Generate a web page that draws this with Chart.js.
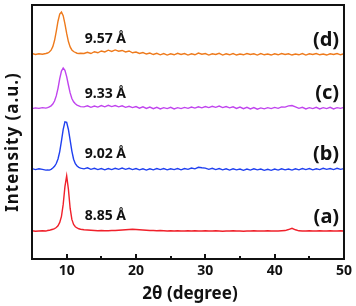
<!DOCTYPE html>
<html>
<head>
<meta charset="utf-8">
<script src="https://cdn.jsdelivr.net/npm/chart.js@4.4.1/dist/chart.umd.min.js"></script>
<style>
  html, body { margin: 0; padding: 0; background: #fff; }
  #box { width: 356px; height: 306px; }
</style>
</head>
<body>
<div id="box"><canvas id="myChart"></canvas></div>
<script>
// 2theta grid (denser around the basal peak)
const twoTheta = [
  5, 5.5, 6, 6.5, 7,
  7.25, 7.5, 7.75, 8, 8.25, 8.5, 8.75, 9, 9.25, 9.5, 9.75, 10, 10.25, 10.5, 10.75, 11, 11.25, 11.5, 11.75, 12,
  12.5, 13, 13.5, 14, 14.5, 15, 15.5, 16, 16.5, 17, 17.5, 18, 18.5, 19, 19.5, 20, 20.5, 21, 21.5, 22, 22.5, 23, 23.5, 24, 24.5, 25,
  25.5, 26, 26.5, 27, 27.5, 28, 28.5, 29, 29.5, 30, 30.5, 31, 31.5, 32, 32.5, 33, 33.5, 34, 34.5, 35, 35.5, 36, 36.5, 37, 37.5,
  38, 38.5, 39, 39.5, 40, 40.5, 41, 41.5, 42, 42.5, 43, 43.5, 44, 44.5, 45, 45.5, 46, 46.5, 47, 47.5, 48, 48.5, 49, 49.5, 50
];

// intensities, already stacked with an offset (arbitrary units)
const traceA = [
  11.1, 10.9, 11.0, 11.1, 11.0,
  11.2, 11.3, 11.5, 11.7, 12.0, 12.4, 13.1, 14.4, 16.8, 21.5, 28.5, 32.7, 27.5, 20.0, 15.6, 13.6, 12.7, 12.2, 11.9, 11.7,
  11.5, 11.4, 11.3, 11.2, 11.1, 11.2, 11.1, 11.1, 11.2, 11.2, 11.3, 11.4, 11.5, 11.6, 11.7, 11.6, 11.5, 11.4, 11.3, 11.2, 11.2, 11.1, 11.2, 11.1, 11.0, 11.1,
  11.0, 11.1, 11.0, 11.0, 11.1, 11.0, 11.1, 11.0, 11.0, 11.1, 11.0, 11.0, 11.1, 11.0, 10.9, 11.0, 11.0, 11.1, 11.0, 11.0, 10.9, 11.0, 11.0, 11.1, 11.0,
  11.0, 11.0, 11.1, 11.0, 11.0, 11.0, 11.1, 11.2, 11.6, 12.1, 11.5, 11.1, 11.0, 11.0, 11.1, 11.0, 11.0, 11.1, 11.0, 11.0, 11.1, 11.0, 11.0, 11.1, 11.0
];
const traceB = [
  35.6, 35.2, 35.5, 35.3, 35.0,
  35.1, 35.0, 35.3, 35.8, 36.5, 37.6, 39.4, 42.3, 46.5, 51.0, 54.0, 53.8, 51.0, 46.8, 42.5, 39.3, 37.5, 36.6, 36.1, 35.8,
  35.5, 35.9, 35.3, 35.7, 35.2, 35.6, 35.1, 35.6, 35.2, 35.7, 35.3, 35.8, 35.3, 35.7, 35.2, 35.6, 35.1, 35.5, 35.0, 35.5, 35.1, 35.6, 35.2, 35.6, 35.1, 35.5,
  35.2, 35.6, 35.1, 35.6, 35.3, 35.8, 35.5, 36.1, 35.9, 35.8, 35.3, 35.7, 35.2, 35.6, 35.1, 35.5, 35.0, 35.5, 35.1, 35.4, 34.9, 35.4, 35.0, 35.5, 35.1,
  35.4, 34.9, 35.3, 34.9, 35.4, 35.0, 35.5, 35.1, 35.4, 35.0, 35.5, 35.1, 35.6, 35.2, 35.6, 35.1, 35.5, 35.2, 35.7, 35.3, 35.6, 35.2, 35.7, 35.3, 35.6
];
const traceC = [
  59.2, 59.5, 59.3, 59.6, 59.4,
  59.6, 59.9, 60.3, 61.0, 62.2, 64.2, 67.2, 71.0, 74.0, 75.2, 74.3, 71.8, 68.5, 65.4, 63.2, 61.9, 61.1, 60.6, 60.3, 60.0,
  59.9, 60.3, 59.7, 60.2, 59.8, 60.4, 59.9, 60.5, 60.0, 60.4, 59.9, 60.3, 59.7, 60.1, 59.6, 60.0, 59.4, 59.9, 59.3, 59.8, 59.2, 59.7, 59.1, 59.6, 59.2, 59.7,
  59.1, 59.6, 59.2, 59.7, 59.3, 59.8, 59.4, 59.9, 59.5, 60.0, 59.6, 60.1, 59.7, 60.2, 59.6, 60.0, 59.5, 59.9, 59.3, 59.8, 59.2, 59.7, 59.1, 59.6, 59.0,
  59.5, 59.1, 59.6, 59.2, 59.7, 59.3, 59.9, 59.8, 60.3, 60.4, 59.9, 59.3, 59.7, 59.1, 59.6, 59.2, 59.7, 59.1, 59.6, 59.2, 59.7, 59.1, 59.6, 59.3, 59.7
];
const traceD = [
  80.9, 80.5, 80.8, 80.6, 80.9,
  81.1, 81.5, 82.2, 83.6, 86.0, 89.6, 93.6, 96.4, 97.2, 95.8, 92.6, 88.8, 85.6, 83.5, 82.3, 81.7, 81.3, 81.0, 80.9, 81.0,
  80.9, 81.4, 80.9, 81.6, 81.2, 81.9, 81.5, 82.2, 81.7, 82.3, 81.8, 82.1, 81.5, 81.9, 81.2, 81.5, 80.9, 81.3, 80.7, 81.1, 80.5, 81.0, 80.4, 80.9, 80.3, 80.8,
  80.4, 81.0, 80.5, 80.9, 80.3, 80.8, 80.4, 81.1, 80.6, 80.9, 80.3, 80.8, 80.5, 81.0, 80.3, 80.8, 80.4, 80.9, 80.3, 80.7, 80.4, 80.9, 80.5, 80.8, 80.3,
  80.9, 80.4, 80.7, 80.3, 80.8, 80.4, 80.9, 80.5, 80.8, 80.3, 80.7, 80.4, 80.9, 80.3, 80.8, 80.5, 80.9, 80.4, 80.7, 80.3, 80.8, 80.5, 80.9, 80.4, 80.8
];

const seriesLetters = ["(a)", "(b)", "(c)", "(d)"];
const dSpacings = ["8.85 Å", "9.02 Å", "9.33 Å", "9.57 Å"];
const seriesColors = ["#f0202a", "#2040f0", "#c044ee", "#ee7a1c"];
const xTicks = [10, 20, 30, 40, 50];
const xMinorTicks = [15, 25, 35, 45];

const traces = [traceA, traceB, traceC, traceD];
const INK = "#111";
const FONT = "'Noto Sans', 'DejaVu Sans', sans-serif";

//frame, inward ticks, peak labels and axis titles
const decorations = {
  id: "decorations",
  afterDraw(chart) {
    const { ctx, chartArea: a, scales: { x, y } } = chart;
    ctx.save();

    //plot frame
    ctx.strokeStyle = INK;
    ctx.lineWidth = 2;
    ctx.strokeRect(a.left, a.top, a.right - a.left, a.bottom - a.top);

    //inward ticks on the bottom axis
    ctx.beginPath();
    xTicks.forEach((v) => {
      const px = Math.round(x.getPixelForValue(v));
      ctx.moveTo(px, a.bottom);
      ctx.lineTo(px, a.bottom - 5);
    });
    xMinorTicks.forEach((v) => {
      const px = Math.round(x.getPixelForValue(v));
      ctx.moveTo(px, a.bottom);
      ctx.lineTo(px, a.bottom - 3);
    });
    ctx.stroke();

    //d-spacing labels and series letters
    ctx.fillStyle = INK;
    ctx.textBaseline = "middle";
    traces.forEach((t, i) => {
      ctx.font = "bold 14px " + FONT;
      ctx.textAlign = "left";
      ctx.fillText(dSpacings[i], x.getPixelForValue(12.6), y.getPixelForValue(t[0] + 5.8));
      ctx.font = "bold 20px " + FONT;
      ctx.textAlign = "right";
      ctx.fillText(seriesLetters[i], x.getPixelForValue(49.3), y.getPixelForValue(t[t.length - 1] + 5.5));
    });

    //axis titles
    ctx.font = "bold 17px " + FONT;
    ctx.textAlign = "center";
    ctx.fillText("2θ (degree)", (a.left + a.right) / 2 + 2, 294);

    ctx.translate(13, (a.top + a.bottom) / 2 + 10);
    ctx.rotate(-Math.PI / 2);
    ctx.letterSpacing = "1px";
    ctx.fillText("Intensity (a.u.)", 0, 0);
    ctx.restore();
  },
};

new Chart(document.getElementById("myChart").getContext("2d"), {
  type: "line",
  data: {
    datasets: traces.map((t, i) => ({
      data: t.map((v, j) => ({ x: twoTheta[j], y: v })),
      borderColor: seriesColors[i],
      borderWidth: 1.4,
      pointRadius: 0,
      tension: 0,
    })),
  },
  options: {
    responsive: true,
    maintainAspectRatio: false,
    animation: false,
    layout: { padding: { left: 32, right: 11, top: 5, bottom: 0 } },
    plugins: { legend: { display: false }, tooltip: { enabled: false } },
    scales: {
      x: {
        type: "linear",
        min: 5,
        max: 50,
        afterBuildTicks: (axis) => {
          axis.ticks = xTicks.map((v) => ({ value: v }));
        },
        afterFit: (axis) => {
          axis.height = 47;
        },
        grid: { display: false, drawTicks: false },
        border: { display: false },
        ticks: {
          color: INK,
          padding: 4,
          maxRotation: 0,
          font: { family: FONT, size: 14, weight: "bold" },
        },
      },
      y: {
        display: false,
        min: 0,
        max: 100,
      },
    },
  },
  plugins: [decorations],
});
</script>
</body>
</html>
